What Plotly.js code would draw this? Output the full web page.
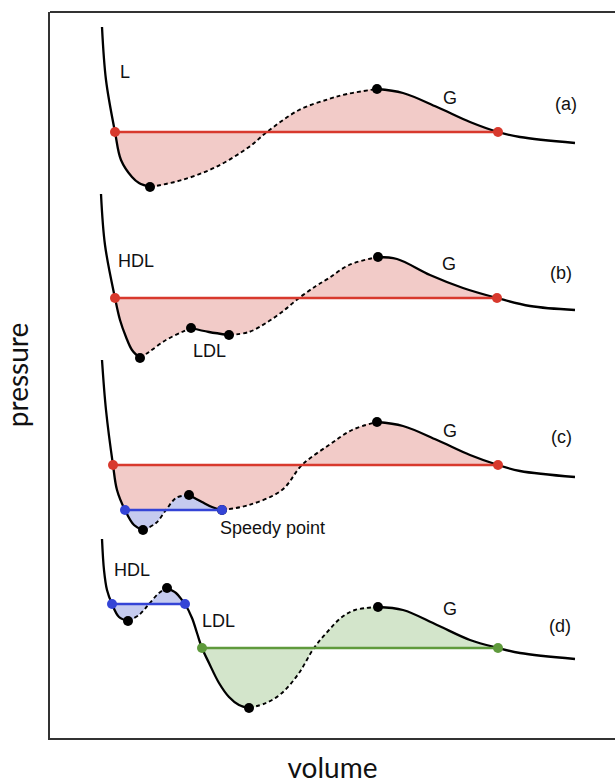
<!DOCTYPE html>
<html>
<head>
<meta charset="utf-8">
<script src="https://cdn.plot.ly/plotly-3.0.1.min.js"></script>
<style>html,body{margin:0;padding:0;background:#fff;}#chart{width:615px;height:784px;}</style>
</head>
<body>
<div id="chart"></div>
<script>
// ---- Data (volume, pressure in arbitrary units, read from the schematic) ----
// (a) simple van der Waals loop: liquid L – gas G
const volA  = [52,56,65,71,82,89,100,132,166,199,217,249,279,297,327,353,387,420,448,470,525];
const presA = [711,658,606,578,561,555,551,558,571,591,606,628,639,644,649,645,631,616,606,601,595];
const spinA = [6,14];              // indices of spinodal points
const coexA = [[2,18]];            // liquid–gas coexistence (indices)

// (b) HDL / LDL loop inside the liquid branch
const volB  = [51,55,65,70,76,82,90,99,116,132,141,159,179,199,216,232,249,266,279,299,328,347,380,413,447,480,525];
const presB = [544,493,440,418,401,388,380,386,398,406,410,406,403,406,415,426,440,452,460,473,481,479,463,450,440,432,428];
const spinB = [6,10,12,20];
const coexB = [[2,24]];

// (c) Speedy point
const volC  = [52,56,63,67,75,84,93,106,116,126,139,152,162,172,199,232,252,279,302,327,353,387,420,448,470,525];
const presC = [378,328,273,248,228,213,208,215,228,240,243,236,231,228,233,248,273,293,308,316,312,298,283,273,267,261];
const spinC = [6,10,13,19];
const coexC = [[2,23],[4,13]];     // liquid–gas, HDL–LDL

// (d) stable HDL–LDL transition
const volD  = [52,54,57,62,69,78,89,99,109,117,126,132,135,142,147,152,159,169,179,189,199,216,232,249,264,279,292,305,328,353,387,420,448,470,525];
const presD = [199,168,148,134,121,117,123,134,145,150,145,138,134,120,105,90,75,55,41,33,30,35,45,65,90,108,121,128,131,128,113,98,90,85,79];
const spinD = [5,9,20,28];
const coexD = [[3,12],[15,32]];    // HDL–LDL, LDL–gas

const panelLabels = ['(a)','(b)','(c)','(d)'];
const phaseLabels = ['L','G','HDL','LDL','G','G','Speedy point','HDL','LDL','G'];

// ---- Styles ----
const RED = '#d8392d', RED_FILL = '#f2cbc8';
const BLUE = '#3444d6', BLUE_FILL = '#c5cbef';
const GREEN = '#5f9a3c', GREEN_FILL = '#d3e5cb';

const curves = [
  {v: volA, p: presA, spin: spinA, coex: coexA, colors: [[RED, RED_FILL]]},
  {v: volB, p: presB, spin: spinB, coex: coexB, colors: [[RED, RED_FILL]]},
  {v: volC, p: presC, spin: spinC, coex: coexC, colors: [[RED, RED_FILL],[BLUE, BLUE_FILL]]},
  {v: volD, p: presD, spin: spinD, coex: coexD, colors: [[BLUE, BLUE_FILL],[GREEN, GREEN_FILL]]}
];

const fills = [], lines = [], coexLines = [], blackDots = [], colDots = [];

curves.forEach(c => {
  // shaded areas between the loop and the coexistence line
  c.coex.forEach((pair, k) => {
    const [i, j] = pair;
    fills.push({
      x: c.v.slice(i, j + 1), y: c.p.slice(i, j + 1),
      mode: 'lines', fill: 'toself', fillcolor: c.colors[k][1],
      line: {width: 0, shape: 'spline', color: c.colors[k][1]},
      hoverinfo: 'skip', showlegend: false
    });
    coexLines.push({
      x: [c.v[i], c.v[j]], y: [c.p[i], c.p[i]],
      mode: 'lines', line: {color: c.colors[k][0], width: 2.6},
      hoverinfo: 'skip', showlegend: false
    });
    colDots.push({
      x: [c.v[i], c.v[j]], y: [c.p[i], c.p[i]],
      mode: 'markers', marker: {color: c.colors[k][0], size: 10},
      hoverinfo: 'skip', showlegend: false
    });
  });
  // isotherm: solid (stable/metastable) and dashed (unstable) pieces
  const bounds = [0].concat(c.spin, [c.v.length - 1]);
  for (let s = 0; s < bounds.length - 1; s++) {
    const a = bounds[s], b = bounds[s + 1];
    const dashed = s % 2 === 1;
    lines.push({
      x: c.v.slice(a, b + 1), y: c.p.slice(a, b + 1),
      mode: 'lines',
      line: {color: '#000', width: dashed ? 1.9 : 2.3, shape: 'spline', dash: dashed ? '4px,3px' : 'solid'},
      hoverinfo: 'skip', showlegend: false
    });
  }
  blackDots.push({
    x: c.spin.map(i => c.v[i]), y: c.spin.map(i => c.p[i]),
    mode: 'markers', marker: {color: '#000', size: 10},
    hoverinfo: 'skip', showlegend: false
  });
});

// fills: blue over red
const data = fills.concat(lines, coexLines, blackDots, colDots);

const lblFont = {family: 'Liberation Sans, Arial, sans-serif', size: 18, color: '#111'};
const labelPos = [[75,666],[400,640],[86,477],[159,387],[399,474],[400,307],[222,210],[82,168],[168,117],[400,129]];
const panelPos = [[516,634],[511,465],[511,301],[510,112]];
const annotations = [];
phaseLabels.forEach((t, k) => annotations.push({
  x: labelPos[k][0], y: labelPos[k][1], text: t, showarrow: false, font: lblFont,
  xanchor: 'center', yanchor: 'middle'
}));
panelLabels.forEach((t, k) => annotations.push({
  x: panelPos[k][0], y: panelPos[k][1], text: t, showarrow: false, font: lblFont,
  xanchor: 'center', yanchor: 'middle'
}));

const titleFont = {family: 'Lato, Open Sans, sans-serif', size: 28, color: '#111'};
const layout = {
  width: 615, height: 784,
  margin: {l: 50, r: 0, t: 12, b: 46},
  paper_bgcolor: '#fff', plot_bgcolor: '#fff',
  showlegend: false,
  xaxis: {range: [0, 565], showgrid: false, zeroline: false, showticklabels: false, ticks: '',
          showline: true, linecolor: '#333', linewidth: 2, fixedrange: true,
          title: {text: 'volume', font: titleFont, standoff: 20}},
  yaxis: {range: [0, 726], showgrid: false, zeroline: false, showticklabels: false, ticks: '',
          showline: true, linecolor: '#333', linewidth: 2, fixedrange: true,
          title: {text: 'pressure', font: titleFont, standoff: 12}},
  shapes: [{type: 'line', xref: 'paper', yref: 'paper', x0: 0, x1: 1, y0: 1, y1: 1,
            line: {color: '#333', width: 2}}],
  annotations: annotations
};

Plotly.newPlot('chart', data, layout, {displayModeBar: false, staticPlot: true});
</script>
</body>
</html>
